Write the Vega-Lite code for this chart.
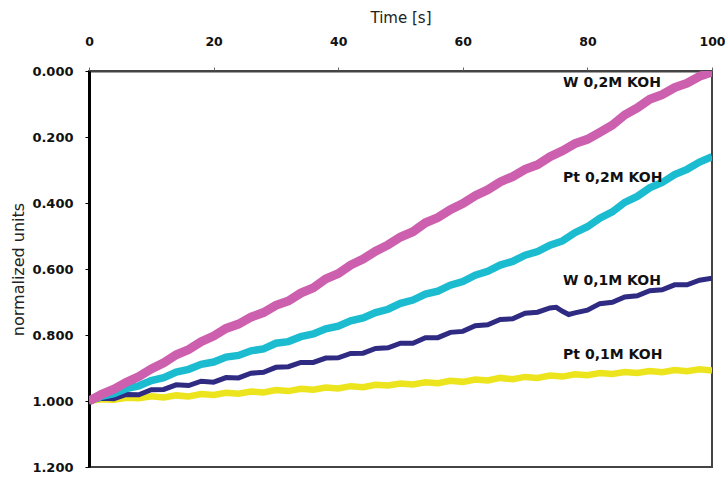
{
  "$schema": "https://vega.github.io/schema/vega-lite/v6.json",
  "width": 623,
  "height": 396,
  "autosize": "none",
  "padding": {"left": 89, "top": 71, "right": 13, "bottom": 11},
  "background": "white",
  "config": {
    "view": {"stroke": "#444444", "strokeWidth": 2},
    "font": "DejaVu Sans"
  },
  "datasets": {
    "series": [
      {"t": 0, "v": 1.000, "s": "W 0,2M KOH"}, {"t": 2, "v": 0.980, "s": "W 0,2M KOH"}, {"t": 4, "v": 0.964, "s": "W 0,2M KOH"}, {"t": 6, "v": 0.943, "s": "W 0,2M KOH"}, {"t": 8, "v": 0.926, "s": "W 0,2M KOH"}, {"t": 10, "v": 0.903, "s": "W 0,2M KOH"}, {"t": 12, "v": 0.884, "s": "W 0,2M KOH"}, {"t": 14, "v": 0.860, "s": "W 0,2M KOH"}, {"t": 16, "v": 0.844, "s": "W 0,2M KOH"}, {"t": 18, "v": 0.820, "s": "W 0,2M KOH"}, {"t": 20, "v": 0.803, "s": "W 0,2M KOH"}, {"t": 22, "v": 0.780, "s": "W 0,2M KOH"}, {"t": 24, "v": 0.767, "s": "W 0,2M KOH"}, {"t": 26, "v": 0.746, "s": "W 0,2M KOH"}, {"t": 28, "v": 0.732, "s": "W 0,2M KOH"}, {"t": 30, "v": 0.710, "s": "W 0,2M KOH"}, {"t": 32, "v": 0.697, "s": "W 0,2M KOH"}, {"t": 34, "v": 0.673, "s": "W 0,2M KOH"}, {"t": 36, "v": 0.657, "s": "W 0,2M KOH"}, {"t": 38, "v": 0.630, "s": "W 0,2M KOH"}, {"t": 40, "v": 0.614, "s": "W 0,2M KOH"}, {"t": 42, "v": 0.588, "s": "W 0,2M KOH"}, {"t": 44, "v": 0.570, "s": "W 0,2M KOH"}, {"t": 46, "v": 0.546, "s": "W 0,2M KOH"}, {"t": 48, "v": 0.527, "s": "W 0,2M KOH"}, {"t": 50, "v": 0.503, "s": "W 0,2M KOH"}, {"t": 52, "v": 0.487, "s": "W 0,2M KOH"}, {"t": 54, "v": 0.460, "s": "W 0,2M KOH"}, {"t": 56, "v": 0.444, "s": "W 0,2M KOH"}, {"t": 58, "v": 0.420, "s": "W 0,2M KOH"}, {"t": 60, "v": 0.402, "s": "W 0,2M KOH"}, {"t": 62, "v": 0.378, "s": "W 0,2M KOH"}, {"t": 64, "v": 0.360, "s": "W 0,2M KOH"}, {"t": 66, "v": 0.336, "s": "W 0,2M KOH"}, {"t": 68, "v": 0.320, "s": "W 0,2M KOH"}, {"t": 70, "v": 0.298, "s": "W 0,2M KOH"}, {"t": 72, "v": 0.284, "s": "W 0,2M KOH"}, {"t": 74, "v": 0.260, "s": "W 0,2M KOH"}, {"t": 76, "v": 0.242, "s": "W 0,2M KOH"}, {"t": 78, "v": 0.220, "s": "W 0,2M KOH"}, {"t": 80, "v": 0.207, "s": "W 0,2M KOH"}, {"t": 82, "v": 0.186, "s": "W 0,2M KOH"}, {"t": 84, "v": 0.164, "s": "W 0,2M KOH"}, {"t": 86, "v": 0.133, "s": "W 0,2M KOH"}, {"t": 88, "v": 0.112, "s": "W 0,2M KOH"}, {"t": 90, "v": 0.086, "s": "W 0,2M KOH"}, {"t": 92, "v": 0.072, "s": "W 0,2M KOH"}, {"t": 94, "v": 0.050, "s": "W 0,2M KOH"}, {"t": 96, "v": 0.037, "s": "W 0,2M KOH"}, {"t": 98, "v": 0.016, "s": "W 0,2M KOH"}, {"t": 100, "v": 0.003, "s": "W 0,2M KOH"},

      {"t": 0, "v": 1.000, "s": "Pt 0,2M KOH"}, {"t": 2, "v": 0.986, "s": "Pt 0,2M KOH"}, {"t": 4, "v": 0.978, "s": "Pt 0,2M KOH"}, {"t": 6, "v": 0.962, "s": "Pt 0,2M KOH"}, {"t": 8, "v": 0.954, "s": "Pt 0,2M KOH"}, {"t": 10, "v": 0.938, "s": "Pt 0,2M KOH"}, {"t": 12, "v": 0.929, "s": "Pt 0,2M KOH"}, {"t": 14, "v": 0.912, "s": "Pt 0,2M KOH"}, {"t": 16, "v": 0.904, "s": "Pt 0,2M KOH"}, {"t": 18, "v": 0.889, "s": "Pt 0,2M KOH"}, {"t": 20, "v": 0.882, "s": "Pt 0,2M KOH"}, {"t": 22, "v": 0.867, "s": "Pt 0,2M KOH"}, {"t": 24, "v": 0.862, "s": "Pt 0,2M KOH"}, {"t": 26, "v": 0.848, "s": "Pt 0,2M KOH"}, {"t": 28, "v": 0.842, "s": "Pt 0,2M KOH"}, {"t": 30, "v": 0.825, "s": "Pt 0,2M KOH"}, {"t": 32, "v": 0.820, "s": "Pt 0,2M KOH"}, {"t": 34, "v": 0.805, "s": "Pt 0,2M KOH"}, {"t": 36, "v": 0.797, "s": "Pt 0,2M KOH"}, {"t": 38, "v": 0.781, "s": "Pt 0,2M KOH"}, {"t": 40, "v": 0.773, "s": "Pt 0,2M KOH"}, {"t": 42, "v": 0.757, "s": "Pt 0,2M KOH"}, {"t": 44, "v": 0.748, "s": "Pt 0,2M KOH"}, {"t": 46, "v": 0.732, "s": "Pt 0,2M KOH"}, {"t": 48, "v": 0.722, "s": "Pt 0,2M KOH"}, {"t": 50, "v": 0.704, "s": "Pt 0,2M KOH"}, {"t": 52, "v": 0.694, "s": "Pt 0,2M KOH"}, {"t": 54, "v": 0.676, "s": "Pt 0,2M KOH"}, {"t": 56, "v": 0.667, "s": "Pt 0,2M KOH"}, {"t": 58, "v": 0.649, "s": "Pt 0,2M KOH"}, {"t": 60, "v": 0.638, "s": "Pt 0,2M KOH"}, {"t": 62, "v": 0.619, "s": "Pt 0,2M KOH"}, {"t": 64, "v": 0.607, "s": "Pt 0,2M KOH"}, {"t": 66, "v": 0.588, "s": "Pt 0,2M KOH"}, {"t": 68, "v": 0.577, "s": "Pt 0,2M KOH"}, {"t": 70, "v": 0.558, "s": "Pt 0,2M KOH"}, {"t": 72, "v": 0.547, "s": "Pt 0,2M KOH"}, {"t": 74, "v": 0.528, "s": "Pt 0,2M KOH"}, {"t": 76, "v": 0.515, "s": "Pt 0,2M KOH"}, {"t": 78, "v": 0.490, "s": "Pt 0,2M KOH"}, {"t": 80, "v": 0.472, "s": "Pt 0,2M KOH"}, {"t": 82, "v": 0.446, "s": "Pt 0,2M KOH"}, {"t": 84, "v": 0.427, "s": "Pt 0,2M KOH"}, {"t": 86, "v": 0.398, "s": "Pt 0,2M KOH"}, {"t": 88, "v": 0.380, "s": "Pt 0,2M KOH"}, {"t": 90, "v": 0.354, "s": "Pt 0,2M KOH"}, {"t": 92, "v": 0.338, "s": "Pt 0,2M KOH"}, {"t": 94, "v": 0.314, "s": "Pt 0,2M KOH"}, {"t": 96, "v": 0.298, "s": "Pt 0,2M KOH"}, {"t": 98, "v": 0.276, "s": "Pt 0,2M KOH"}, {"t": 100, "v": 0.260, "s": "Pt 0,2M KOH"},

      {"t": 0, "v": 1.000, "s": "W 0,1M KOH"}, {"t": 2, "v": 0.992, "s": "W 0,1M KOH"}, {"t": 4, "v": 0.993, "s": "W 0,1M KOH"}, {"t": 6, "v": 0.980, "s": "W 0,1M KOH"}, {"t": 8, "v": 0.981, "s": "W 0,1M KOH"}, {"t": 10, "v": 0.966, "s": "W 0,1M KOH"}, {"t": 12, "v": 0.965, "s": "W 0,1M KOH"}, {"t": 14, "v": 0.951, "s": "W 0,1M KOH"}, {"t": 16, "v": 0.953, "s": "W 0,1M KOH"}, {"t": 18, "v": 0.940, "s": "W 0,1M KOH"}, {"t": 20, "v": 0.943, "s": "W 0,1M KOH"}, {"t": 22, "v": 0.929, "s": "W 0,1M KOH"}, {"t": 24, "v": 0.930, "s": "W 0,1M KOH"}, {"t": 26, "v": 0.916, "s": "W 0,1M KOH"}, {"t": 28, "v": 0.913, "s": "W 0,1M KOH"}, {"t": 30, "v": 0.898, "s": "W 0,1M KOH"}, {"t": 32, "v": 0.896, "s": "W 0,1M KOH"}, {"t": 34, "v": 0.883, "s": "W 0,1M KOH"}, {"t": 36, "v": 0.883, "s": "W 0,1M KOH"}, {"t": 38, "v": 0.870, "s": "W 0,1M KOH"}, {"t": 40, "v": 0.869, "s": "W 0,1M KOH"}, {"t": 42, "v": 0.856, "s": "W 0,1M KOH"}, {"t": 44, "v": 0.855, "s": "W 0,1M KOH"}, {"t": 46, "v": 0.841, "s": "W 0,1M KOH"}, {"t": 48, "v": 0.839, "s": "W 0,1M KOH"}, {"t": 50, "v": 0.825, "s": "W 0,1M KOH"}, {"t": 52, "v": 0.825, "s": "W 0,1M KOH"}, {"t": 54, "v": 0.808, "s": "W 0,1M KOH"}, {"t": 56, "v": 0.808, "s": "W 0,1M KOH"}, {"t": 58, "v": 0.792, "s": "W 0,1M KOH"}, {"t": 60, "v": 0.789, "s": "W 0,1M KOH"}, {"t": 62, "v": 0.772, "s": "W 0,1M KOH"}, {"t": 64, "v": 0.769, "s": "W 0,1M KOH"}, {"t": 66, "v": 0.753, "s": "W 0,1M KOH"}, {"t": 68, "v": 0.751, "s": "W 0,1M KOH"}, {"t": 70, "v": 0.734, "s": "W 0,1M KOH"}, {"t": 72, "v": 0.731, "s": "W 0,1M KOH"}, {"t": 74, "v": 0.718, "s": "W 0,1M KOH"}, {"t": 75, "v": 0.716, "s": "W 0,1M KOH"}, {"t": 76, "v": 0.728, "s": "W 0,1M KOH"}, {"t": 77, "v": 0.738, "s": "W 0,1M KOH"}, {"t": 78, "v": 0.733, "s": "W 0,1M KOH"}, {"t": 80, "v": 0.725, "s": "W 0,1M KOH"}, {"t": 82, "v": 0.705, "s": "W 0,1M KOH"}, {"t": 84, "v": 0.701, "s": "W 0,1M KOH"}, {"t": 86, "v": 0.685, "s": "W 0,1M KOH"}, {"t": 88, "v": 0.681, "s": "W 0,1M KOH"}, {"t": 90, "v": 0.666, "s": "W 0,1M KOH"}, {"t": 92, "v": 0.663, "s": "W 0,1M KOH"}, {"t": 94, "v": 0.648, "s": "W 0,1M KOH"}, {"t": 96, "v": 0.648, "s": "W 0,1M KOH"}, {"t": 98, "v": 0.634, "s": "W 0,1M KOH"}, {"t": 100, "v": 0.628, "s": "W 0,1M KOH"},

      {"t": 0, "v": 1.000, "s": "Pt 0,1M KOH"}, {"t": 2, "v": 0.995, "s": "Pt 0,1M KOH"}, {"t": 4, "v": 0.996, "s": "Pt 0,1M KOH"}, {"t": 6, "v": 0.990, "s": "Pt 0,1M KOH"}, {"t": 8, "v": 0.992, "s": "Pt 0,1M KOH"}, {"t": 10, "v": 0.986, "s": "Pt 0,1M KOH"}, {"t": 12, "v": 0.989, "s": "Pt 0,1M KOH"}, {"t": 14, "v": 0.983, "s": "Pt 0,1M KOH"}, {"t": 16, "v": 0.986, "s": "Pt 0,1M KOH"}, {"t": 18, "v": 0.979, "s": "Pt 0,1M KOH"}, {"t": 20, "v": 0.982, "s": "Pt 0,1M KOH"}, {"t": 22, "v": 0.975, "s": "Pt 0,1M KOH"}, {"t": 24, "v": 0.978, "s": "Pt 0,1M KOH"}, {"t": 26, "v": 0.971, "s": "Pt 0,1M KOH"}, {"t": 28, "v": 0.974, "s": "Pt 0,1M KOH"}, {"t": 30, "v": 0.967, "s": "Pt 0,1M KOH"}, {"t": 32, "v": 0.970, "s": "Pt 0,1M KOH"}, {"t": 34, "v": 0.963, "s": "Pt 0,1M KOH"}, {"t": 36, "v": 0.966, "s": "Pt 0,1M KOH"}, {"t": 38, "v": 0.959, "s": "Pt 0,1M KOH"}, {"t": 40, "v": 0.962, "s": "Pt 0,1M KOH"}, {"t": 42, "v": 0.955, "s": "Pt 0,1M KOH"}, {"t": 44, "v": 0.958, "s": "Pt 0,1M KOH"}, {"t": 46, "v": 0.951, "s": "Pt 0,1M KOH"}, {"t": 48, "v": 0.953, "s": "Pt 0,1M KOH"}, {"t": 50, "v": 0.947, "s": "Pt 0,1M KOH"}, {"t": 52, "v": 0.950, "s": "Pt 0,1M KOH"}, {"t": 54, "v": 0.943, "s": "Pt 0,1M KOH"}, {"t": 56, "v": 0.946, "s": "Pt 0,1M KOH"}, {"t": 58, "v": 0.939, "s": "Pt 0,1M KOH"}, {"t": 60, "v": 0.942, "s": "Pt 0,1M KOH"}, {"t": 62, "v": 0.935, "s": "Pt 0,1M KOH"}, {"t": 64, "v": 0.938, "s": "Pt 0,1M KOH"}, {"t": 66, "v": 0.930, "s": "Pt 0,1M KOH"}, {"t": 68, "v": 0.934, "s": "Pt 0,1M KOH"}, {"t": 70, "v": 0.927, "s": "Pt 0,1M KOH"}, {"t": 72, "v": 0.930, "s": "Pt 0,1M KOH"}, {"t": 74, "v": 0.923, "s": "Pt 0,1M KOH"}, {"t": 76, "v": 0.926, "s": "Pt 0,1M KOH"}, {"t": 78, "v": 0.919, "s": "Pt 0,1M KOH"}, {"t": 80, "v": 0.922, "s": "Pt 0,1M KOH"}, {"t": 82, "v": 0.915, "s": "Pt 0,1M KOH"}, {"t": 84, "v": 0.918, "s": "Pt 0,1M KOH"}, {"t": 86, "v": 0.912, "s": "Pt 0,1M KOH"}, {"t": 88, "v": 0.915, "s": "Pt 0,1M KOH"}, {"t": 90, "v": 0.909, "s": "Pt 0,1M KOH"}, {"t": 92, "v": 0.913, "s": "Pt 0,1M KOH"}, {"t": 94, "v": 0.906, "s": "Pt 0,1M KOH"}, {"t": 96, "v": 0.910, "s": "Pt 0,1M KOH"}, {"t": 98, "v": 0.904, "s": "Pt 0,1M KOH"}, {"t": 100, "v": 0.908, "s": "Pt 0,1M KOH"}
    ],
    "labels": [
      {"t": 76.1, "v": 0.036, "s": "W 0,2M KOH"},
      {"t": 76.1, "v": 0.323, "s": "Pt 0,2M KOH"},
      {"t": 76.1, "v": 0.636, "s": "W 0,1M KOH"},
      {"t": 76.1, "v": 0.862, "s": "Pt 0,1M KOH"}
    ]
  },
  "encoding": {
    "x": {
      "field": "t", "type": "quantitative",
      "scale": {"domain": [0, 100], "nice": false},
      "axis": {
        "orient": "top",
        "title": "Time [s]",
        "values": [0, 20, 40, 60, 80, 100],
        "grid": false,
        "domainColor": "#444444", "domainWidth": 2,
        "tickColor": "#666666", "tickSize": 4, "tickWidth": 1,
        "labelFont": "DejaVu Sans", "labelFontSize": 12.5, "labelFontWeight": "bold", "labelColor": "#111111",
        "labelPadding": 19, "labelFlush": false,
        "titleFont": "DejaVu Sans", "titleFontSize": 15, "titleFontWeight": "normal", "titleColor": "#222222",
        "titleX": 311.5, "titleY": -54, "titleAlign": "center", "titleBaseline": "middle"
      }
    },
    "y": {
      "field": "v", "type": "quantitative",
      "scale": {"domain": [0, 1.2], "reverse": true, "nice": false, "zero": false},
      "axis": {
        "title": "normalized units",
        "values": [0, 0.2, 0.4, 0.6, 0.8, 1.0, 1.2],
        "format": ".3f",
        "grid": false,
        "domainColor": "#000000", "domainWidth": 3,
        "tickColor": "#000000", "tickSize": 4, "tickWidth": 1,
        "labelFont": "DejaVu Sans", "labelFontSize": 13, "labelFontWeight": "bold", "labelColor": "#111111",
        "labelPadding": 12, "labelFlush": false,
        "titleFont": "DejaVu Sans", "titleFontSize": 16, "titleFontWeight": "normal", "titleColor": "#222222",
        "titleX": -71, "titleY": 198, "titleAlign": "center", "titleBaseline": "middle", "titleAngle": -90
      }
    }
  },
  "layer": [
    {
      "data": {"name": "series"},
      "transform": [{"filter": "datum.s === 'Pt 0,1M KOH'"}],
      "mark": {"type": "line", "color": "#ece41c", "strokeWidth": 6.5, "strokeJoin": "miter", "clip": true},
      "encoding": {"order": {"field": "t", "type": "quantitative"}}
    },
    {
      "data": {"name": "series"},
      "transform": [{"filter": "datum.s === 'W 0,1M KOH'"}],
      "mark": {"type": "line", "color": "#2f2a82", "strokeWidth": 5, "strokeJoin": "miter", "clip": true},
      "encoding": {"order": {"field": "t", "type": "quantitative"}}
    },
    {
      "data": {"name": "series"},
      "transform": [{"filter": "datum.s === 'Pt 0,2M KOH'"}],
      "mark": {"type": "line", "color": "#1cbcd0", "strokeWidth": 7.5, "strokeJoin": "miter", "clip": true},
      "encoding": {"order": {"field": "t", "type": "quantitative"}}
    },
    {
      "data": {"name": "series"},
      "transform": [{"filter": "datum.s === 'W 0,2M KOH'"}],
      "mark": {"type": "line", "color": "#cc5fae", "strokeWidth": 9, "strokeJoin": "miter", "clip": true},
      "encoding": {"order": {"field": "t", "type": "quantitative"}}
    },
    {
      "data": {"name": "labels"},
      "mark": {"type": "text", "align": "left", "baseline": "middle", "font": "DejaVu Sans", "fontSize": 14, "fontWeight": "bold", "color": "#111111"},
      "encoding": {
        "text": {"field": "s", "type": "nominal"}
      }
    }
  ]
}
